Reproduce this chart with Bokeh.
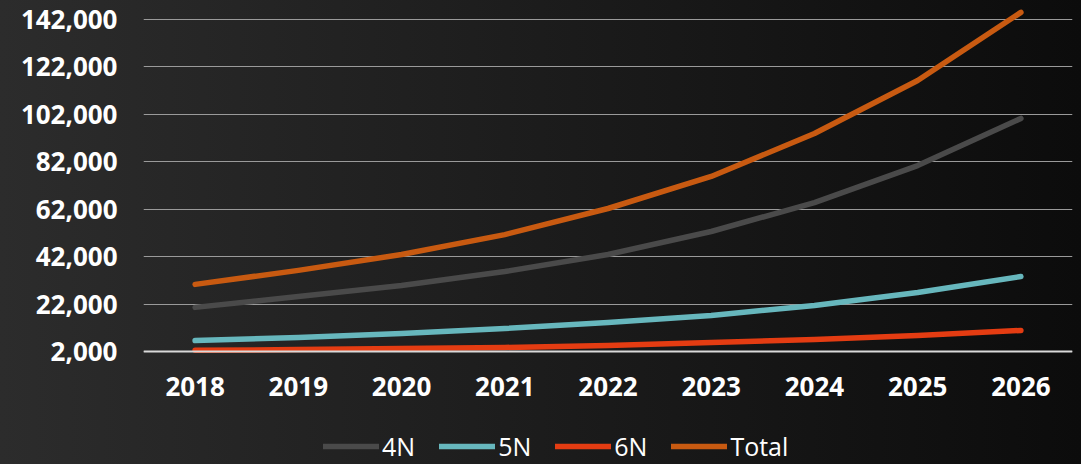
from bokeh.plotting import figure
from bokeh.models import (FixedTicker, NumeralTickFormatter, Legend, LegendItem,
                          GlobalInlineStyleSheet)
from bokeh.embed import file_html
from bokeh.resources import INLINE

years = ["2018", "2019", "2020", "2021", "2022", "2023", "2024", "2025", "2026"]
n4 = [20600, 25200, 29800, 35700, 42900, 52600, 64800, 80400, 100300]
n5 = [6600, 7900, 9600, 11700, 14200, 17200, 21400, 26900, 33600]
n6 = [2500, 2800, 3300, 3700, 4500, 5800, 7100, 8700, 10900]
total = [30300, 36200, 42900, 51300, 62300, 75800, 93900, 116300, 145000]
y_ticks = [2000, 22000, 42000, 62000, 82000, 102000, 122000, 142000]

series = [("4N", n4, "#4a4a4a"), ("5N", n5, "#67b7bd"),
          ("6N", n6, "#e43c12"), ("Total", total, "#c85a11")]

# frame spans the full lower area so the legend can sit inside it;
# the x axis is pinned at y = 2000
p = figure(x_range=years, y_range=(-45650, 147900), width=1081, height=464,
           output_backend="svg", toolbar_location=None,
           min_border_left=143, min_border_right=9, min_border_top=5,
           min_border_bottom=0)

p.background_fill_alpha = 0
p.border_fill_alpha = 0
p.outline_line_color = None
p.styles = {"background": "linear-gradient(to right, #2c2c2c, #0c0c0c)"}
p.stylesheets = [GlobalInlineStyleSheet(
    css="html, body { margin: 0; padding: 0; background: #1a1a1a; overflow: hidden; }")]

items = []
for name, vals, col in series:
    r = p.line(years, vals, line_color=col, line_width=5.5, line_cap="round",
               line_join="round")
    items.append(LegendItem(label=name, renderers=[r]))

p.yaxis.ticker = FixedTicker(ticks=y_ticks)
p.yaxis.formatter = NumeralTickFormatter(format="0,0")
p.yaxis.axis_line_color = None
p.yaxis.major_tick_line_color = None
p.yaxis.minor_tick_line_color = None
p.yaxis.major_tick_out = 0
p.yaxis.major_tick_in = 0
p.yaxis.major_label_text_color = "white"
p.yaxis.major_label_text_font = "Open Sans"
p.yaxis.major_label_text_font_style = "bold"
p.yaxis.major_label_text_font_size = "26px"
p.yaxis.major_label_standoff = 26

p.xaxis.fixed_location = 2000
p.xaxis.axis_line_color = "#d9d9d9"
p.xaxis.axis_line_width = 2
p.xaxis.major_tick_line_color = None
p.xaxis.minor_tick_line_color = None
p.xaxis.major_tick_out = 0
p.xaxis.major_tick_in = 0
p.xaxis.major_label_text_color = "white"
p.xaxis.major_label_text_font = "Open Sans"
p.xaxis.major_label_text_font_style = "bold"
p.xaxis.major_label_text_font_size = "26px"
p.xaxis.major_label_standoff = 26

p.xgrid.grid_line_color = None
p.ygrid.grid_line_color = "#9a9a9a"
p.ygrid.grid_line_width = 1.2

legend = Legend(items=items, orientation="horizontal", location=(180, 1),
                label_text_color="white", label_text_font="Open Sans",
                label_text_font_size="25px", glyph_width=56, glyph_height=20,
                label_height=20, label_standoff=3, spacing=24,
                background_fill_alpha=0, border_line_color=None,
                margin=0, padding=4)
p.add_layout(legend, "center")

open("out.html", "w").write(file_html(p, INLINE))
